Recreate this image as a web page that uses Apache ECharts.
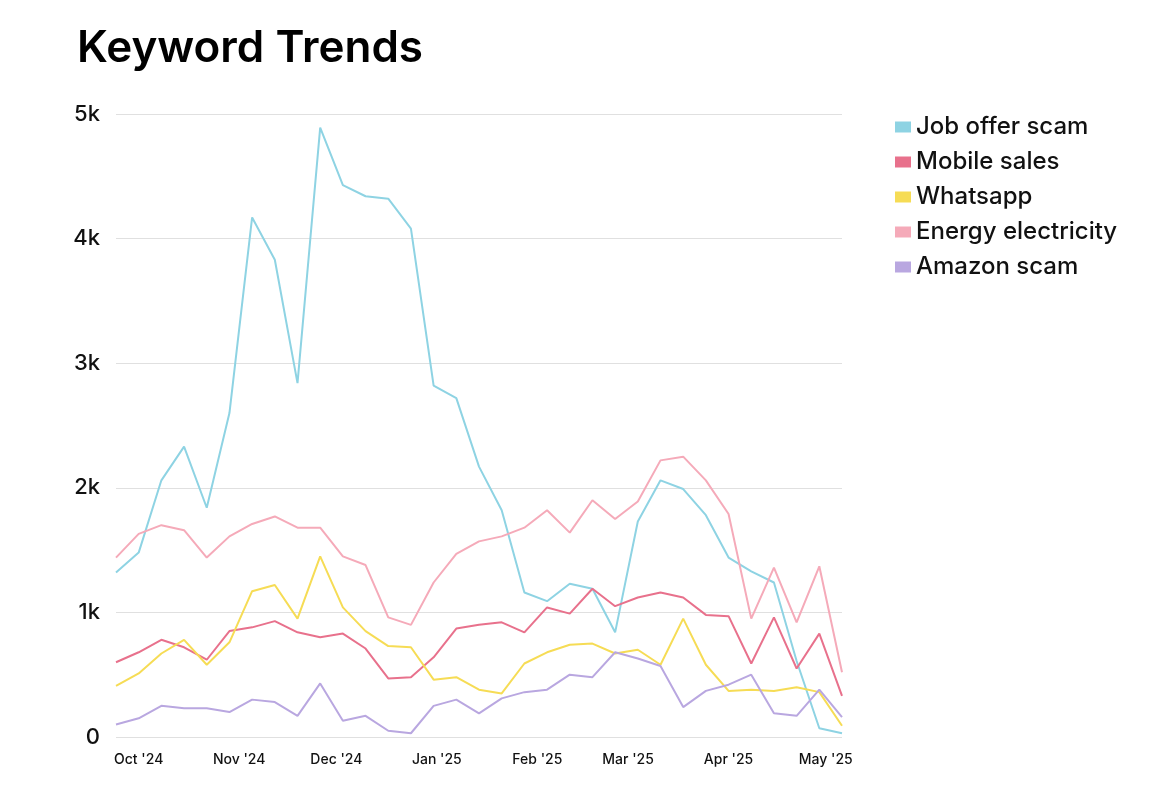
<!DOCTYPE html>
<html><head><meta charset="utf-8">
<script src="https://cdn.jsdelivr.net/npm/echarts@6/dist/echarts.min.js"></script>
<style>html,body{margin:0;background:#fff}#c{width:1174px;height:786px}</style>
</head><body><div id="c"></div>
<script>
const startDate = '2024-09-24';
const monthNames = ['Jan','Feb','Mar','Apr','May','Jun','Jul','Aug','Sep','Oct','Nov','Dec'];
const jobOffer = [1320,1480,2060,2330,1840,2600,4170,3830,2840,4890,4430,4340,4320,4080,2820,2720,2170,1820,1160,1090,1230,1190,840,1730,2060,1990,1780,1440,1330,1240,610,70,30];
const mobileSales = [600,680,780,720,620,850,880,930,840,800,830,710,470,480,640,870,900,920,840,1040,990,1190,1050,1120,1160,1120,980,970,590,960,550,830,330];
const whatsapp = [410,510,670,780,580,760,1170,1220,950,1450,1040,850,730,720,460,480,380,350,590,680,740,750,670,700,580,950,580,370,380,370,400,360,90];
const energy = [1440,1630,1700,1660,1440,1610,1710,1770,1680,1680,1450,1380,960,900,1240,1470,1570,1610,1680,1820,1640,1900,1750,1890,2220,2250,2060,1790,950,1360,920,1370,520];
const amazon = [100,150,250,230,230,200,300,280,170,430,130,170,50,30,250,300,190,310,360,380,500,480,680,630,570,240,370,420,500,190,170,380,160];
const names = ['Job offer scam','Mobile sales','Whatsapp','Energy electricity','Amazon scam'];
const colors = ['#8ed3e3','#e8718c','#f6dc55','#f5aab9','#b9a7e0'];
const values = [jobOffer, mobileSales, whatsapp, energy, amazon];

const t0 = new Date(startDate + 'T00:00:00Z').getTime();
const week = 7*24*3600*1000;
const dates = jobOffer.map((_, i) => t0 + i*week);

const chart = echarts.init(document.getElementById('c'));
chart.setOption({
  animation:false,
  title:{text:'Keyword Trends',left:72,top:22,textStyle:{fontFamily:'Inter',fontSize:44,fontWeight:600,color:'#000'}},
  legend:{orient:'vertical',left:890,top:110,icon:'rect',itemWidth:16,itemHeight:11,itemGap:11,
    textStyle:{fontFamily:'Inter',fontSize:24,color:'#111',fontWeight:500},data:names},
  grid:{left:116,right:332,top:114,bottom:49},
  xAxis:{type:'time',min:dates[0],max:dates[dates.length-1],splitNumber:8,
    axisLine:{show:false},axisTick:{show:false},splitLine:{show:false},
    axisLabel:{fontFamily:'Inter',fontSize:14,fontWeight:500,color:'#111',margin:16,hideOverlap:true,
      formatter:function(v){const d=new Date(v);if(d.getUTCDate()!==1)return '';return monthNames[d.getUTCMonth()]+" '"+String(d.getUTCFullYear()).slice(2);}}},
  yAxis:{type:'value',min:0,max:5000,interval:1000,
    axisLine:{show:false},axisTick:{show:false},
    splitLine:{lineStyle:{color:'#e0e0e0'}},
    axisLabel:{fontFamily:'Inter',fontSize:22,fontWeight:500,color:'#111',margin:16,
      formatter:function(v){return v===0?'0':(v/1000)+'k';}}},
  series: names.map((n,i)=>({name:n,type:'line',showSymbol:false,color:colors[i],
    lineStyle:{width:2},data:dates.map((d,j)=>[d,values[i][j]])}))
});
</script></body></html>
